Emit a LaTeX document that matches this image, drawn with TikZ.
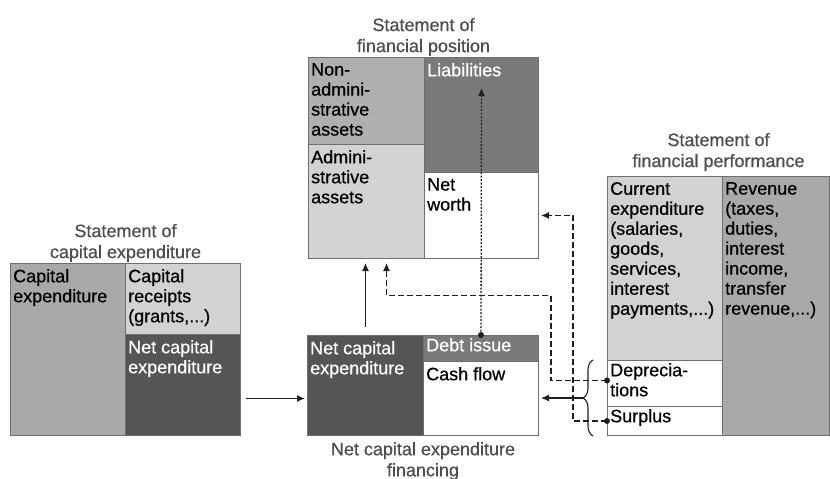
\documentclass[tikz,border=0pt]{standalone}
\usepackage{fontspec}
\setmainfont{Liberation Sans}[FakeBold=0.6]
\usetikzlibrary{arrows.meta,calc,decorations.pathreplacing}
\definecolor{darkgr}{HTML}{555555}
\definecolor{midgr}{HTML}{7A7A7A}
\definecolor{greygr}{HTML}{A9A9A9}
\definecolor{lightgr}{HTML}{D2D2D2}
\definecolor{framegr}{HTML}{6E6E6E}
\definecolor{titlegr}{HTML}{4E4E4E}
\definecolor{linegr}{HTML}{1E1E1E}
\begin{document}
\begin{tikzpicture}[x=1pt,y=-1pt,
    cell/.style={draw=framegr, line width=1pt, anchor=north west, inner sep=0pt},
    txt/.style={anchor=north west, align=left, inner xsep=3pt, inner ysep=6pt,
      font=\fontsize{18}{20}\selectfont},
    title/.style={align=center, text=titlegr, inner sep=1pt,
      font=\fontsize{18}{21}\selectfont},
    flow/.style={draw=linegr, line width=1.3pt, -{Latex[length=8pt,width=7pt]}},
    dashflow/.style={flow, dash pattern=on 6pt off 3pt},
    dotflow/.style={flow, dash pattern=on 2pt off 1.5pt}]
  \useasboundingbox (0,0) rectangle (830,479);

  % statement of capital expenditure
  \node (capexp) [cell, fill=greygr, minimum width=115pt, minimum height=172pt] at (10,263) {};
  \node (caprec) [cell, fill=lightgr, minimum width=115pt, minimum height=71pt] at (125,263) {};
  \node (netcapA) [cell, fill=darkgr, minimum width=115pt, minimum height=101pt] at (125,334) {};
  \node [txt] at (capexp.north west) {Capital\\expenditure};
  \node [txt] at (caprec.north west) {Capital\\receipts\\(grants,...)};
  \node [txt, text=white] at (netcapA.north west) {Net capital\\expenditure};
  \node (titleA) [title, anchor=south] at ($(capexp.north west)!0.5!(caprec.north east)$) {Statement of\\capital expenditure};

  % statement of financial position
  \node (nonadm) [cell, fill=greygr!85!lightgr, minimum width=116pt, minimum height=87pt] at (308,57) {};
  \node (adm) [cell, fill=lightgr, minimum width=116pt, minimum height=114pt] at (308,144) {};
  \node (liab) [cell, fill=midgr, minimum width=114pt, minimum height=115pt] at (424,57) {};
  \node (networth) [cell, fill=white, minimum width=114pt, minimum height=86pt] at (424,172) {};
  \node [txt] at (nonadm.north west) {Non-\\admini-\\strative\\assets};
  \node [txt] at (adm.north west) {Admini-\\strative\\assets};
  \node [txt, text=white] at (liab.north west) {Liabilities};
  \node [txt] at (networth.north west) {Net\\worth};
  \node (titleB) [title, anchor=south] at ($(nonadm.north west)!0.5!(liab.north east)$) {Statement of\\financial position};

  % net capital expenditure financing
  \node (netcapB) [cell, fill=darkgr, minimum width=116pt, minimum height=100pt] at (307,335) {};
  \node (debt) [cell, fill=midgr, minimum width=115pt, minimum height=26pt] at (423,335) {};
  \node (cash) [cell, fill=white, minimum width=115pt, minimum height=74pt] at (423,361) {};
  \node [txt, text=white] at (netcapB.north west) {Net capital\\expenditure};
  \node [txt, text=white, inner ysep=3pt] at (debt.north west) {Debt issue};
  \node [txt] at (cash.north west) {Cash flow};
  \node (titleC) [title, anchor=north] at ($(netcapB.south west)!0.5!(cash.south east)+(0,5)$) {Net capital expenditure\\financing};

  % statement of financial performance
  \node (curexp) [cell, fill=lightgr, minimum width=115pt, minimum height=184pt] at (607,176) {};
  \node (depr) [cell, fill=white, minimum width=115pt, minimum height=46pt] at (607,360) {};
  \node (surp) [cell, fill=white, minimum width=115pt, minimum height=29pt] at (607,406) {};
  \node (rev) [cell, fill=greygr, minimum width=107pt, minimum height=259pt] at (722,176) {};
  \node [txt] at (curexp.north west) {Current\\expenditure\\(salaries,\\goods,\\services,\\interest\\payments,...)};
  \node [txt, inner ysep=3pt] at (depr.north west) {Deprecia-\\tions};
  \node [txt, inner ysep=3pt] at (surp.north west) {Surplus};
  \node [txt] at (rev.north west) {Revenue\\(taxes,\\duties,\\interest\\income,\\transfer\\revenue,...)};
  \node (titleD) [title, anchor=south] at ($(curexp.north west)!0.5!(rev.north east)+(0,-4)$) {Statement of\\financial performance};

  % flows
  \draw [flow] ([xshift=5pt]netcapA.east |- cash.west) -- ([xshift=-2pt]netcapB.west |- cash.west);
  \draw [flow] ([yshift=8pt]netcapB.north) -- ([yshift=-4pt]netcapB.north |- adm.south);

  \coordinate (depdot) at ([yshift=3pt]depr.west);
  \draw [dashflow] (depdot) -- ++(-56,0) -- ++(0,-85) -| ([xshift=20pt,yshift=-4pt]adm.south);
  \draw [dashflow] (surp.west) -- ++(-34,0) |- ([xshift=2pt]networth.east);
  \draw [dotflow] (debt.north) -- ([yshift=-31pt]liab.north);
  \fill [linegr] (depdot) circle (3pt) (surp.west) circle (3pt) (debt.north) circle (3pt);

  \draw [linegr, line width=1.1pt, decorate, decoration={brace, amplitude=10pt}]
    ([xshift=-14pt]surp.south west) -- ([xshift=-14pt]depr.north west);
  \coordinate (bracetip) at ($(depr.north west)!0.5!(surp.south west)+(-24,0)$);
  \draw [flow] (bracetip) -- ([xshift=2pt]bracetip -| cash.east);
\end{tikzpicture}
\end{document}
